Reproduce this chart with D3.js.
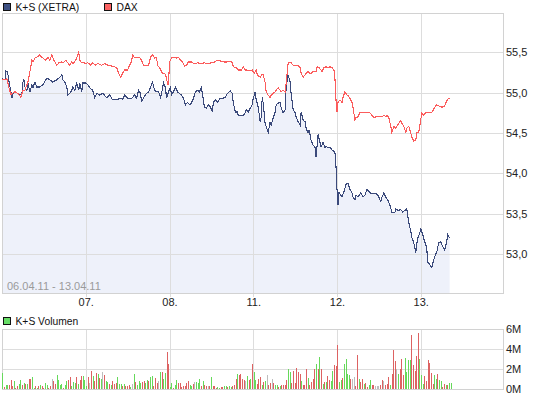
<!DOCTYPE html>
<html>
<head>
<meta charset="utf-8">
<script src="https://cdn.jsdelivr.net/npm/d3@7"></script>
<style>
    html, body { margin: 0; padding: 0; background: #fff; }
    svg { display: block; font-family: "Liberation Sans", Arial, sans-serif; }
</style>
</head>
<body>
<div id="chart"></div>
<script>
// time runs in 6-minute slots, 84 slots per trading day
const SLOTS = 84;
const BARS_PER_DAY = 51; // 10-minute volume bars
const dayLabels = ['06.', '07.', '08.', '11.', '12.', '13.'];
const dateRange = '06.04.11 - 13.04.11';
const priceTicks = [53.0, 53.5, 54.0, 54.5, 55.0, 55.5];
const volumeTicks = [0, 2, 4, 6];

// K+S (XETRA) price, [slot, EUR]
const ksPoints = [
    [0,55.17],[3,55.16],[4,55.27],[5,55.26],[6,55.22],[8,55.07],[10,54.94],[11,54.99],[13,55.01],[16,54.99],
    [18,54.97],[20,54.99],[21,55.13],[22,55.16],[23,55.07],[25,55.03],[26,55.12],[28,55.01],[30,55.10],[31,55.06],
    [33,55.13],[35,55.07],[38,55.07],[41,55.10],[45,55.18],[48,55.16],[51,55.13],[55,55.16],[58,55.19],[60,55.22],
    [61,55.16],[63,55.13],[65,55.07],[66,54.97],[68,54.99],[70,55.03],[71,55.07],[73,55.03],[75,55.12],[77,55.03],
    [78,55.12],[80,55.01],[81,55.12],[84,55.12],[86,55.10],[88,55.06],[91,55.03],[93,54.94],[95,54.99],[98,54.97],
    [101,54.99],[105,54.94],[108,54.97],[111,54.91],[115,54.91],[118,54.93],[121,54.92],[123,54.97],[126,54.93],[130,54.93],
    [133,54.97],[135,54.93],[137,55.03],[139,54.99],[140,54.88],[142,54.94],[145,54.99],[147,55.01],[149,55.07],[151,55.13],
    [153,55.03],[155,55.01],[157,55.01],[159,54.94],[160,54.99],[162,55.12],[164,55.06],[165,54.93],[167,55.01],[169,55.07],
    [170,54.97],[172,55.01],[174,55.07],[176,55.01],[178,54.99],[180,54.97],[182,54.93],[184,54.85],[186,54.88],[188,54.85],
    [190,54.87],[192,54.93],[194,55.01],[196,55.03],[198,55.01],[200,55.06],[201,54.99],[203,54.82],[205,54.81],[207,54.85],
    [209,54.82],[211,54.76],[212,54.88],[214,54.91],[216,54.88],[219,54.93],[221,54.93],[224,54.94],[226,54.99],[229,55.02],
    [231,54.99],[232,54.87],[234,54.76],[236,54.76],[237,54.72],[240,54.72],[242,54.72],[244,54.75],[245,54.79],[247,54.76],
    [249,54.81],[251,54.85],[252,54.93],[254,55.01],[255,54.91],[257,54.82],[259,54.64],[260,54.70],[261,54.94],[262,54.87],
    [264,54.60],[265,54.58],[267,54.51],[269,54.64],[270,54.60],[272,54.69],[274,54.76],[275,54.85],[277,54.87],[279,54.88],
    [280,54.81],[282,54.75],[284,54.79],[285,55.07],[287,55.22],[289,55.13],[290,54.99],[292,54.79],[294,54.75],[295,54.70],
    [297,54.64],[299,54.60],[300,54.76],[302,54.66],[304,54.64],[305,54.56],[307,54.50],[308,54.54],[310,54.41],[312,54.35],
    [314,54.32],[315,54.20],[317,54.48],[319,54.38],[320,54.33],[322,54.38],[324,54.32],[325,54.33],[327,54.32],[329,54.32],
    [331,54.29],[333,54.27],[334,54.25],[335,54.08],[336,53.80],[337,53.61],[338,53.76],[341,53.71],[343,53.77],[345,53.86],
    [347,53.88],[349,53.80],[351,53.76],[352,53.71],[354,53.67],[355,53.73],[357,53.71],[360,53.76],[362,53.71],[364,53.73],
    [366,53.80],[369,53.76],[371,53.75],[375,53.75],[377,53.73],[380,53.65],[381,53.70],[383,53.76],[385,53.70],[387,53.67],
    [389,53.61],[391,53.52],[394,53.51],[395,53.56],[397,53.54],[400,53.55],[402,53.52],[404,53.54],[406,53.56],[408,53.39],
    [410,53.28],[411,53.21],[413,53.14],[415,53.02],[416,53.12],[417,53.20],[419,53.26],[420,53.31],[422,53.24],[424,53.15],
    [426,53.08],[427,52.90],[429,52.87],[431,52.83],[433,52.93],[435,53.00],[436,53.02],[438,53.14],[440,53.15],[441,53.12],
    [444,53.05],[446,53.15],[447,53.24],[449,53.20]
];

// DAX, rebased onto the K+S price scale, [slot, value]
const daxPoints = [
    [0,55.16],[5,55.17],[7,55.06],[9,54.97],[10,54.99],[13,55.01],[16,54.99],[19,54.94],[21,55.03],[23,55.03],
    [25,55.10],[26,55.13],[28,55.26],[30,55.40],[31,55.38],[33,55.43],[35,55.44],[38,55.47],[40,55.43],[41,55.43],
    [44,55.40],[46,55.44],[48,55.40],[50,55.47],[51,55.43],[53,55.38],[55,55.34],[57,55.37],[60,55.38],[61,55.37],
    [64,55.40],[66,55.37],[68,55.34],[70,55.38],[71,55.36],[74,55.40],[76,55.47],[77,55.50],[78,55.40],[80,55.37],
    [82,55.37],[84,55.36],[86,55.37],[89,55.34],[91,55.37],[94,55.34],[96,55.36],[100,55.34],[103,55.36],[106,55.34],
    [110,55.33],[113,55.32],[115,55.31],[117,55.24],[119,55.19],[121,55.24],[123,55.28],[126,55.28],[128,55.34],[130,55.39],
    [131,55.47],[133,55.43],[136,55.43],[138,55.44],[140,55.40],[142,55.34],[145,55.34],[147,55.34],[149,55.44],[151,55.47],
    [153,55.43],[155,55.44],[156,55.34],[158,55.31],[160,55.26],[161,55.24],[163,55.24],[165,55.19],[166,55.10],[167,55.10],
    [168,55.38],[170,55.43],[172,55.44],[175,55.43],[177,55.44],[179,55.40],[181,55.38],[183,55.33],[185,55.34],[187,55.38],
    [190,55.38],[191,55.37],[194,55.36],[196,55.37],[200,55.36],[203,55.37],[206,55.36],[210,55.37],[213,55.38],[216,55.40],
    [220,55.39],[223,55.38],[226,55.38],[229,55.39],[231,55.37],[232,55.32],[235,55.31],[237,55.28],[240,55.28],[242,55.32],
    [244,55.28],[246,55.28],[248,55.27],[251,55.28],[253,55.24],[255,55.28],[256,55.22],[259,55.19],[261,55.23],[262,55.22],
    [264,55.12],[265,55.01],[267,54.97],[269,54.94],[270,54.97],[272,54.99],[274,55.01],[275,55.03],[277,55.06],[279,55.03],
    [280,55.01],[282,55.03],[284,55.01],[285,55.12],[287,55.37],[289,55.38],[290,55.37],[292,55.34],[295,55.34],[297,55.34],
    [299,55.31],[300,55.24],[302,55.19],[304,55.22],[305,55.24],[307,55.26],[309,55.24],[310,55.24],[312,55.26],[315,55.26],
    [316,55.32],[318,55.31],[320,55.28],[321,55.26],[323,55.31],[325,55.32],[327,55.31],[329,55.32],[331,55.31],[333,55.28],
    [334,55.16],[335,54.91],[336,54.76],[337,54.88],[339,54.91],[341,54.88],[342,54.94],[344,55.01],[346,54.97],[347,54.97],
    [349,54.93],[351,54.88],[352,54.82],[354,54.66],[355,54.69],[357,54.70],[359,54.75],[361,54.75],[364,54.75],[366,54.76],
    [369,54.75],[371,54.72],[373,54.69],[375,54.70],[378,54.70],[381,54.70],[383,54.72],[385,54.70],[386,54.72],[388,54.69],
    [390,54.58],[391,54.51],[393,54.58],[395,54.56],[397,54.60],[400,54.66],[401,54.62],[403,54.58],[405,54.51],[406,54.56],
    [408,54.58],[410,54.50],[411,54.45],[413,54.40],[415,54.41],[416,54.51],[418,54.51],[420,54.66],[421,54.75],[423,54.72],
    [425,54.75],[429,54.75],[431,54.75],[434,54.82],[436,54.85],[439,54.83],[441,54.82],[444,54.83],[445,54.87],[447,54.92],
    [449,54.93]
];

// K+S volume in millions per 10-minute bar, one array per trading day
const volDay = [
    [1.65,0.25,0.4,0.4,0.4,0.9,0.35,0.8,0.15,0.35, 0.55,0.9,0.4,0.65,0.55,0.5,1.0,1.0,1.2,0.1,
     0.3,0.15,0.3,0.45,0.35,0.15,0.65,0.4,0.15,0.3, 1.0,0.8,0.55,1.4,0.9,0.4,0.55,0.15,0.4,0.8,
     0.9,1.2,0.35,0.7,0.65,1.2,0.55,0.9,1.3,1.3,0.9],
    [0.3,1.2,0.65,1.8,1.3,0.8,1.65,1.55,1.1,1.0, 1.7,1.45,0.8,0.7,0.55,0.4,0.8,0.5,0.65,1.2,
     0.5,0.5,0.35,0.5,0.35,0.35,0.4,0.2,0.5,1.55, 0.75,0.4,0.8,0.65,0.75,0.8,0.65,0.9,0.8,1.2,
     1.3,0.3,1.1,0.65,0.8,1.7,1.7,1.0,1.65,3.7, 2.5],
    [0.2,0.6,0.15,0.4,0.9,0.65,0.65,0.25,0.35,0.35, 0.65,0.8,0.4,0.35,0.5,0.7,0.7,0.65,1.0,0.35,
     0.8,0.4,0.3,0.3,0.3,1.2,0.3,0.3,0.15,0.2, 0.15,0.2,0.2,0.3,0.3,0.2,0.3,0.2,0.35,0.4,
     1.0,1.55,1.4,1.5,1.0,0.9,0.85,1.3,0.9,1.0, 2.5],
    [1.7,0.9,0.5,1.0,1.2,0.4,0.75,0.85,1.4,0.4, 0.65,1.0,0.6,0.4,0.4,0.2,0.3,0.4,0.4,0.4,
     0.9,2.0,1.7,0.65,1.8,0.6,2.1,1.7,1.5,0.8, 0.4,0.45,2.0,1.15,0.45,0.7,1.0,2.0,2.5,2.0,
     3.2,2.0,0.5,0.7,0.7,1.3,0.9,0.8,1.8,2.4, 2.3],
    [4.4,0.7,0.9,1.1,2.5,3.0,1.5,1.4,1.0,1.0, 1.2,0.3,3.4,1.0,0.7,1.0,0.5,0.6,0.2,0.4,
     0.9,0.4,0.4,0.3,0.3,0.3,0.4,0.9,0.8,0.4, 0.5,1.2,0.4,1.5,3.9,2.8,2.0,1.5,2.0,3.0,
     1.4,3.1,1.7,2.9,2.9,5.4,2.4,1.8,3.3,5.6, 3.0],
    [1.4,0.5,1.3,0.8,2.9,2.6,1.6,0.5,1.4,1.0, 1.5,0.9,0.8,0.2,0.5,0.4,0.4,0.6,0.6]
];
// bar tone: g = price up, r = price down, n = unchanged
const volTone = [
    'grggrrrgrr' + 'ggrgrgrrgg' + 'rgrgrrggrr' + 'nrrggggrgg' + 'rrgggrgrrgg',
    'grnrgrrgrg' + 'nrggrgrrrg' + 'ggrgrrrgng' + 'rgggrrggrg' + 'grrrngrggr' + 'r',
    'ggrggrrrrr' + 'rrggrngggr' + 'grrnrgrrrg' + 'grrggrggrr' + 'rgrrrrngrg' + 'r',
    'ggrrrgrgnr' + 'rnrggrgrrr' + 'rggrrrrrrg' + 'rrrgrrrrgr' + 'grgrgrrggr' + 'r',
    'rggrggggrn' + 'nrrgrrgrrg' + 'grrnnnrrnr' + 'rrgrrrngrr' + 'rggggrrrrr' + 'g',
    'ggrrrrrrgg' + 'rggrrgrgg'
];

const width = 545, height = 398;
const plotL = 2, plotR = 503;
const mainTop = 13, mainBottom = 293;
const volTop = 329, volBottom = 389;

const toneColor = { g: '#66d95a', r: '#dd6262', n: '#bdbdbd' };
const gridColor = '#dddddd';
const frameColor = '#d2d2d2';

const fmt = d3.formatLocale({ decimal: ',', thousands: '.', grouping: [3], currency: ['', '€'] }).format('.1f');

const svg = d3.select('#chart').append('svg')
    .attr('width', width)
    .attr('height', height);

const x = d3.scaleLinear().domain([0, 6 * SLOTS]).range([plotL, 504.5]);
const y = d3.scaleLinear().domain([52.517, 55.987]).range([mainBottom, mainTop]);
const vy = d3.scaleLinear().domain([0, 6]).range([volBottom, volTop]);

svg.append('defs').append('clipPath').attr('id', 'clip-main')
    .append('rect').attr('x', plotL).attr('y', mainTop).attr('width', plotR - plotL).attr('height', mainBottom - mainTop);

// --- main panel ---
const main = svg.append('g');

// area under K+S
main.append('path')
    .datum(ksPoints)
    .attr('clip-path', 'url(#clip-main)')
    .attr('fill', '#eef1fa')
    .attr('d', d3.area()
        .x(d => x(d[0]))
        .y0(mainBottom)
        .y1(d => y(d[1])));

// grid
main.append('g')
    .selectAll('line')
    .data(priceTicks)
    .join('line')
    .attr('x1', plotL).attr('x2', plotR)
    .attr('y1', d => Math.round(y(d)) + 0.5)
    .attr('y2', d => Math.round(y(d)) + 0.5)
    .attr('stroke', gridColor);

main.append('g')
    .selectAll('line')
    .data(d3.range(1, 6))
    .join('line')
    .attr('x1', d => Math.round(x(d * SLOTS)) + 0.5)
    .attr('x2', d => Math.round(x(d * SLOTS)) + 0.5)
    .attr('y1', mainTop).attr('y2', mainBottom + 4)
    .attr('stroke', gridColor);

main.append('rect')
    .attr('x', plotL + 0.5).attr('y', mainTop + 0.5)
    .attr('width', plotR - plotL).attr('height', mainBottom - mainTop)
    .attr('fill', 'none')
    .attr('stroke', frameColor);

// date range
main.append('text')
    .attr('x', 7).attr('y', 290)
    .attr('font-size', '11px')
    .attr('fill', '#9a9a9a')
    .text(dateRange);

const line = d3.line()
    .x(d => x(d[0]))
    .y(d => y(d[1]));

main.append('path')
    .datum(ksPoints)
    .attr('fill', 'none')
    .attr('stroke', '#3b4a7b')
    .attr('stroke-width', 1.1)
    .attr('shape-rendering', 'crispEdges')
    .attr('d', line);

main.append('path')
    .datum(daxPoints)
    .attr('fill', 'none')
    .attr('stroke', '#fb5c5c')
    .attr('stroke-width', 1.1)
    .attr('shape-rendering', 'crispEdges')
    .attr('d', line);

// price labels (right)
main.append('g')
    .selectAll('text')
    .data(priceTicks)
    .join('text')
    .attr('x', 506)
    .attr('y', d => y(d))
    .attr('dy', '0.36em')
    .attr('font-size', '11px')
    .attr('fill', '#222')
    .text(d => fmt(d));

// day labels
main.append('g')
    .selectAll('text')
    .data(d3.range(1, 6))
    .join('text')
    .attr('x', d => x(d * SLOTS) + 0.5)
    .attr('y', 306)
    .attr('text-anchor', 'middle')
    .attr('font-size', '11px')
    .attr('fill', '#222')
    .text(d => dayLabels[d]);

// legend
const legendItems = [
    { label: 'K+S (XETRA)', color: '#3e5183', x: 3, y: 3 },
    { label: 'DAX', color: '#fb6262', x: 104, y: 3 },
    { label: 'K+S Volumen', color: '#66dd66', x: 3, y: 317 }
];
const legend = svg.append('g')
    .selectAll('g')
    .data(legendItems)
    .join('g')
    .attr('transform', d => `translate(${d.x},${d.y})`);
legend.append('rect')
    .attr('x', 0.5).attr('y', 0.5)
    .attr('width', 7).attr('height', 7)
    .attr('fill', d => d.color)
    .attr('stroke', '#111');
legend.append('text')
    .attr('x', 12.5).attr('y', 7.8)
    .attr('font-size', '10.3px')
    .attr('fill', '#111')
    .text(d => d.label);

// --- volume panel ---
const vol = svg.append('g');

vol.append('g')
    .selectAll('line')
    .data(volumeTicks.slice(1, 3))
    .join('line')
    .attr('x1', plotL).attr('x2', plotR)
    .attr('y1', d => Math.round(vy(d)) + 0.5)
    .attr('y2', d => Math.round(vy(d)) + 0.5)
    .attr('stroke', gridColor);

vol.append('g')
    .selectAll('line')
    .data(d3.range(1, 6))
    .join('line')
    .attr('x1', d => Math.round(x(d * SLOTS)) + 0.5)
    .attr('x2', d => Math.round(x(d * SLOTS)) + 0.5)
    .attr('y1', volTop).attr('y2', volBottom)
    .attr('stroke', gridColor);

vol.append('rect')
    .attr('x', plotL + 0.5).attr('y', volTop + 0.5)
    .attr('width', plotR - plotL).attr('height', volBottom - volTop)
    .attr('fill', 'none')
    .attr('stroke', frameColor);

const bars = [];
volDay.forEach((vals, d) => {
    vals.forEach((v, k) => {
        bars.push({
            slot: d * SLOTS + (k + 0.5) * SLOTS / BARS_PER_DAY,
            value: v,
            tone: volTone[d][k]
        });
    });
});

vol.append('g')
    .selectAll('rect')
    .data(bars)
    .join('rect')
    .attr('x', d => Math.floor(x(d.slot)))
    .attr('y', d => vy(d.value))
    .attr('width', 1)
    .attr('height', d => vy(0) - vy(d.value))
    .attr('shape-rendering', 'crispEdges')
    .attr('fill', d => toneColor[d.tone]);

vol.append('g')
    .selectAll('text')
    .data(volumeTicks)
    .join('text')
    .attr('x', 506)
    .attr('y', d => vy(d))
    .attr('dy', '0.36em')
    .attr('font-size', '11px')
    .attr('fill', '#222')
    .text(d => d + 'M');
</script>
</body>
</html>
